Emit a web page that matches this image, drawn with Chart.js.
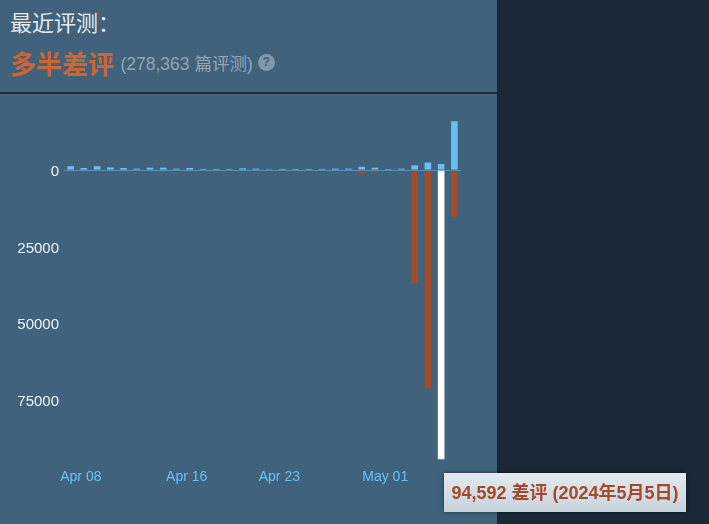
<!DOCTYPE html>
<html>
<head>
<meta charset="utf-8">
<script src="https://cdn.jsdelivr.net/npm/chart.js@4.4.0/dist/chart.umd.min.js"></script>
<style>
  html, body { margin: 0; padding: 0; background: #1b2838; }
  body { width: 709px; height: 524px; position: relative; overflow: hidden;
         font-family: Arial, "Liberation Sans", "Noto Sans CJK SC", sans-serif; }
  #panel { position: absolute; left: 0; top: 0; width: 497px; height: 524px; background: #40627c; }
  #title { position: absolute; left: 10px; top: 5px; font-size: 22px; color: #e4e9ee; }
  #summary { position: absolute; left: 10px; top: 44px; white-space: nowrap; }
  #summary .rating { font-size: 26px; font-weight: bold; color: #d2652c; vertical-align: middle; }
  #summary .count { font-size: 17.5px; color: #8ea6b8; vertical-align: middle; margin-left: 2px; }
  #summary .help { display: inline-block; width: 17px; height: 17px; border-radius: 50%;
                   background: #7f98ab; color: #40627c; font-size: 12px; font-weight: bold;
                   text-align: center; line-height: 17px; vertical-align: middle; margin-left: 5px; }
  #rule { position: absolute; left: 0; top: 92px; width: 497px; height: 2px; background: #1f2e3e; }
  #wrap { position: absolute; left: 0; top: 100px; width: 497px; height: 424px; }
  #tip { position: absolute; left: 444px; top: 473px; width: 242px; height: 39px;
         background: linear-gradient(#e3e9ee, #c8d2db); box-shadow: 0 0 4px rgba(0,0,0,0.5);
         color: #a3492a; font-size: 18px; font-weight: bold; line-height: 40px;
         text-align: center; white-space: nowrap; }
</style>
</head>
<body>
<div id="panel"></div>
<div id="title">最近评测：</div>
<div id="summary"><span class="rating">多半差评</span> <span class="count">(278,363 篇评测)</span><span class="help">?</span></div>
<div id="rule"></div>
<div id="wrap"><canvas id="reviews"></canvas></div>
<div id="tip"></div>

<script>
// Daily review counts, 2024-04-07 .. 2024-05-06
const dates = [
  '2024-04-07', '2024-04-08', '2024-04-09', '2024-04-10', '2024-04-11', '2024-04-12',
  '2024-04-13', '2024-04-14', '2024-04-15', '2024-04-16', '2024-04-17', '2024-04-18',
  '2024-04-19', '2024-04-20', '2024-04-21', '2024-04-22', '2024-04-23', '2024-04-24',
  '2024-04-25', '2024-04-26', '2024-04-27', '2024-04-28', '2024-04-29', '2024-04-30',
  '2024-05-01', '2024-05-02', '2024-05-03', '2024-05-04', '2024-05-05', '2024-05-06'
];
const positive = [
  1300, 700, 1300, 900, 700, 500, 800, 800, 500, 700, 400, 400,
  400, 600, 500, 300, 400, 400, 400, 400, 500, 500, 1100, 800,
  350, 500, 1600, 2500, 2000, 16000
];
const negative = [
  200, 150, 200, 150, 150, 100, 150, 150, 100, 150, 100, 100,
  100, 150, 100, 100, 100, 100, 100, 100, 150, 150, 1000, 700,
  150, 200, 37000, 71300, 94592, 15300
];
const tickDates = ['2024-04-08', '2024-04-16', '2024-04-23', '2024-05-01'];
const tickText = ['Apr 08', 'Apr 16', 'Apr 23', 'May 01'];
const yTicks = [0, 25000, 50000, 75000];
const highlightDate = '2024-05-05';

const hi = dates.indexOf(highlightDate);
const parts = highlightDate.split('-').map(Number);
document.getElementById('tip').textContent =
  negative[hi].toLocaleString('en-US') + ' 差评 (' + parts[0] + '年' + parts[1] + '月' + parts[2] + '日)';

const ctx = document.getElementById('reviews').getContext('2d');
const chart = new Chart(ctx, {
  type: 'bar',
  data: {
    labels: dates,
    datasets: [
      {
        label: 'positive',
        data: positive,
        backgroundColor: '#66c0f4',
        barPercentage: 0.5,
        categoryPercentage: 1.0
      },
      {
        label: 'negative',
        data: negative.map(v => -v),
        backgroundColor: dates.map((d, i) => i === hi ? '#ffffff' : '#a34c25'),
        barPercentage: 0.5,
        categoryPercentage: 1.0
      }
    ]
  },
  options: {
    responsive: true,
    maintainAspectRatio: false,
    animation: false,
    layout: { padding: { top: 9, right: 36, left: 0, bottom: 0 } },
    plugins: { legend: { display: false }, tooltip: { enabled: false } },
    scales: {
      x: {
        stacked: true,
        grid: { display: false, drawTicks: false },
        border: { display: false },
        afterFit: function(scale) { scale.height = 64; },
        ticks: {
          autoSkip: false,
          maxRotation: 0,
          padding: 9,
          labelOffset: -3,
          color: '#67c1f5',
          font: { family: 'Arial, "Liberation Sans"', size: 14 },
          callback: function(value) {
            const k = tickDates.indexOf(dates[value]);
            return k >= 0 ? tickText[k] : '';
          }
        }
      },
      y: {
        stacked: true,
        min: -94800,
        max: 20000,
        afterFit: function(scale) {
          scale.width = 64;
          scale.paddingTop = 0;
          scale.paddingBottom = 0;
        },
        afterBuildTicks: function(scale) {
          scale.ticks = yTicks.map(v => ({ value: -v }));
        },
        grid: {
          drawTicks: false,
          color: function(c) { return c.tick && c.tick.value === 0 ? 'rgba(102,192,244,0.5)' : 'rgba(0,0,0,0)'; }
        },
        border: { display: false },
        ticks: {
          padding: 5,
          labelOffset: 2,
          color: '#eef3f7',
          font: { family: 'Arial, "Liberation Sans"', size: 15 },
          callback: function(value) { return String(Math.abs(value)); }
        }
      }
    }
  }
});
</script>
</body>
</html>
